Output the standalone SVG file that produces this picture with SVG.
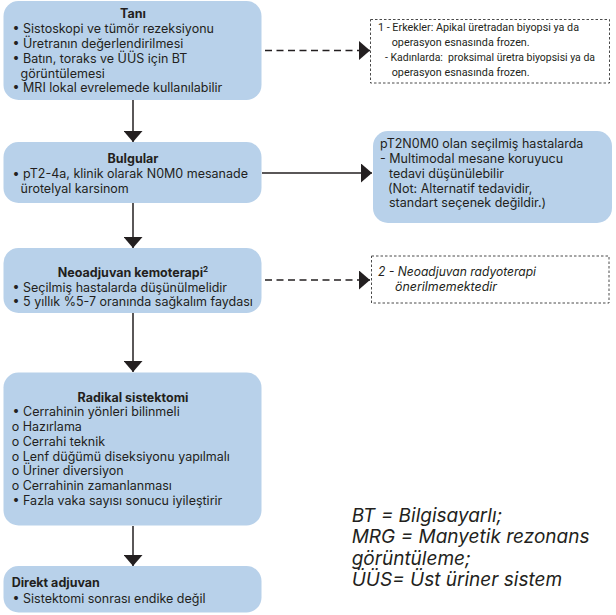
<svg xmlns="http://www.w3.org/2000/svg" width="616" height="615" viewBox="0 0 616 615">
  <style>
    .box { fill: #b8d1ea; }
    .note { fill: #ffffff; stroke: #4a4a4a; stroke-width: 1; stroke-dasharray: 2.5 2; }
    text { font-family: "Inter", "Roboto", sans-serif; font-size: 12.5px; fill: #231f20; }
    .title { font-weight: bold; text-anchor: middle; }
    .bold { font-weight: bold; }
    .cond { font-family: "Roboto", "Liberation Sans", sans-serif; font-size: 11px; }
    .it { font-style: italic; font-size: 12.5px; }
    .abbr { font-style: italic; font-size: 19px; }
    .wire { stroke: #231f20; stroke-width: 1.5; fill: none; }
    .dash { stroke-dasharray: 7 4.5; }
  </style>
  <defs>
    <marker id="head" markerWidth="11" markerHeight="19" refX="11" refY="9.5" orient="auto" markerUnits="userSpaceOnUse">
      <path d="M0,0 L11,9.5 L0,19 Z" fill="#231f20"/>
    </marker>
  </defs>

  <!-- connectors -->
  <g id="connectors">
    <line class="wire" x1="133" y1="100" x2="133" y2="142" marker-end="url(#head)"/>
    <line class="wire" x1="133" y1="203" x2="133" y2="248" marker-end="url(#head)"/>
    <line class="wire" x1="133" y1="313" x2="133" y2="372" marker-end="url(#head)"/>
    <line class="wire" x1="133" y1="526" x2="133" y2="566" marker-end="url(#head)"/>
    <line class="wire dash" x1="265" y1="50.5" x2="370" y2="50.5" marker-end="url(#head)"/>
    <line class="wire" x1="262" y1="173" x2="372" y2="173" marker-end="url(#head)"/>
    <line class="wire dash" x1="265" y1="280" x2="370" y2="280" marker-end="url(#head)"/>
  </g>

  <!-- Tanı -->
  <g id="tani">
    <rect class="box" x="3.5" y="1" width="258" height="99" rx="15"/>
    <text class="title" x="133" y="18.3">Tanı</text>
    <text x="12.5" y="33.1">• Sistoskopi ve tümör rezeksiyonu</text>
    <text x="12.5" y="47.9">• Üretranın değerlendirilmesi</text>
    <text x="12.5" y="62.7">• Batın, toraks ve ÜÜS için BT</text>
    <text x="20.5" y="77.5">görüntülemesi</text>
    <text x="12.5" y="92.3">• MRI lokal evrelemede kullanılabilir</text>
  </g>

  <!-- Footnote 1 -->
  <g id="note1">
    <rect class="note" x="370.5" y="19.5" width="239" height="63.5"/>
    <text class="cond" x="378" y="31" textLength="201" lengthAdjust="spacingAndGlyphs">1 - Erkekler: Apikal üretradan biyopsi ya da</text>
    <text class="cond" x="391.7" y="46" textLength="138" lengthAdjust="spacingAndGlyphs">operasyon esnasında frozen.</text>
    <text class="cond" x="385" y="61" textLength="210" lengthAdjust="spacingAndGlyphs" xml:space="preserve">- Kadınlarda:  proksimal üretra biyopsisi ya da</text>
    <text class="cond" x="391.7" y="76" textLength="138" lengthAdjust="spacingAndGlyphs">operasyon esnasında frozen.</text>
  </g>

  <!-- Bulgular -->
  <g id="bulgular">
    <rect class="box" x="3.5" y="142" width="258" height="61" rx="15"/>
    <text class="title" x="133" y="163.3">Bulgular</text>
    <text x="12.5" y="177.9">• pT2-4a, klinik olarak N0M0 mesanade</text>
    <text x="20.5" y="192.7">ürotelyal karsinom</text>
  </g>

  <!-- Bladder-sparing option -->
  <g id="pt2n0m0">
    <rect class="box" x="373" y="131" width="239" height="92" rx="15"/>
    <text x="380" y="148">pT2N0M0 olan seçilmiş hastalarda</text>
    <text x="380" y="163">- Multimodal mesane koruyucu</text>
    <text x="389" y="177.8">tedavi düşünülebilir</text>
    <text x="388" y="192.6">(Not: Alternatif tedavidir,</text>
    <text x="389" y="207.4">standart seçenek değildir.)</text>
  </g>

  <!-- Neoadjuvan kemoterapi -->
  <g id="neoadjuvan">
    <rect class="box" x="3.5" y="248" width="258" height="65" rx="15"/>
    <text class="title" x="133" y="276.7">Neoadjuvan kemoterapi<tspan font-size="8" dy="-5">2</tspan></text>
    <text x="12.5" y="291.7">• Seçilmiş hastalarda düşünülmelidir</text>
    <text x="12.5" y="306.4">• 5 yıllık %5-7 oranında sağkalım faydası</text>
  </g>

  <!-- Footnote 2 -->
  <g id="note2">
    <rect class="note" x="371.5" y="256" width="237.5" height="47"/>
    <text class="it" x="378" y="276" textLength="158" lengthAdjust="spacingAndGlyphs">2 - Neoadjuvan radyoterapi</text>
    <text class="it" x="395" y="290.5" textLength="102" lengthAdjust="spacingAndGlyphs">önerilmemektedir</text>
  </g>

  <!-- Radikal sistektomi -->
  <g id="radikal">
    <rect class="box" x="3.5" y="372.5" width="258" height="153" rx="15"/>
    <text class="title" x="133" y="401.7">Radikal sistektomi</text>
    <text x="12.5" y="416.3">• Cerrahinin yönleri bilinmeli</text>
    <text x="11.7" y="431">o Hazırlama</text>
    <text x="11.7" y="445.7">o Cerrahi teknik</text>
    <text x="11.7" y="460.5">o Lenf düğümü diseksiyonu yapılmalı</text>
    <text x="11.7" y="475.2">o Üriner diversiyon</text>
    <text x="11.7" y="490">o Cerrahinin zamanlanması</text>
    <text x="12.5" y="504.8">• Fazla vaka sayısı sonucu iyileştirir</text>
  </g>

  <!-- Direkt adjuvan -->
  <g id="adjuvan">
    <rect class="box" x="3.5" y="566" width="258" height="46.5" rx="15"/>
    <text class="bold" x="11.7" y="586.7">Direkt adjuvan</text>
    <text x="12.5" y="603.3">• Sistektomi sonrası endike değil</text>
  </g>

  <!-- Abbreviations -->
  <g id="abbreviations">
    <text class="abbr" x="351.7" y="521.7">BT = Bilgisayarlı;</text>
    <text class="abbr" x="351.7" y="543.3">MRG = Manyetik rezonans</text>
    <text class="abbr" x="351.7" y="564.6">görüntüleme;</text>
    <text class="abbr" x="351.7" y="586">ÜÜS= Üst üriner sistem</text>
  </g>
</svg>
